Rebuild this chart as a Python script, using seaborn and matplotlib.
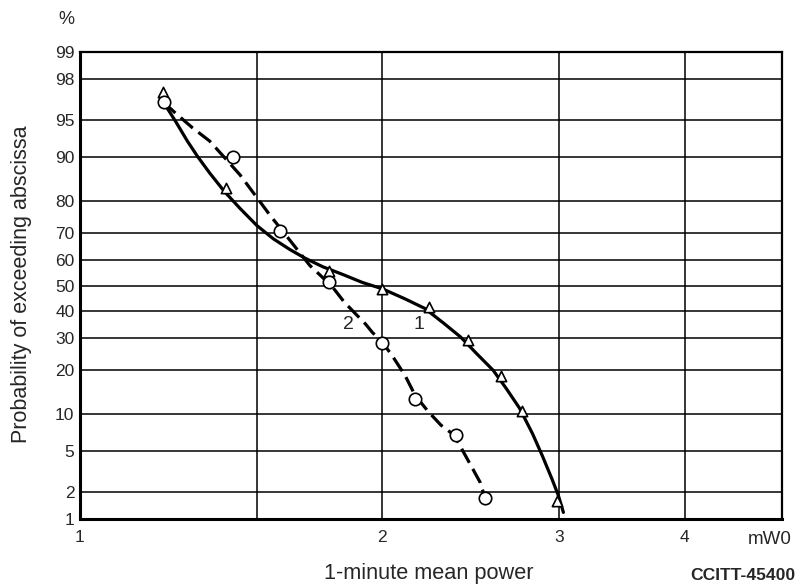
import numpy as np
import matplotlib
matplotlib.use('Agg')
import matplotlib.pyplot as plt
from matplotlib.ticker import FixedLocator, NullLocator
import seaborn as sns
from statistics import NormalDist

# measured points, curve 1 (triangles) and curve 2 (circles)
tri_x = [1.21, 1.399, 1.771, 2.0, 2.224, 2.433, 2.628, 2.754, 2.982]
tri_p = [97.3, 83.4, 55.8, 48.7, 41.7, 29.5, 18.5, 10.5, 1.6]
circ_x = [1.211, 1.420, 1.582, 1.771, 2.0, 2.156, 2.366, 2.531]
circ_p = [96.6, 90.0, 70.8, 51.2, 28.3, 13.0, 6.8, 1.70]

# hand-drawn fitted curves
c1_x = [1.211, 1.245, 1.279, 1.309, 1.346, 1.393, 1.443, 1.5, 1.558, 1.618, 1.674, 1.745,
        1.826, 1.911, 2.0, 2.107, 2.204, 2.305, 2.393, 2.484, 2.579, 2.658, 2.739, 2.822,
        2.886, 2.951, 2.995, 3.029]
c1_p = [96.6, 94.9, 92.5, 90.1, 86.9, 82.5, 77.9, 72.5, 67.9, 64.0, 60.8, 57.4,
        54.4, 51.2, 48.7, 44.7, 41.0, 35.2, 30.4, 24.8, 19.9, 15.2, 11.1, 7.0,
        4.5, 2.69, 1.81, 1.19]
c2_x = [1.211, 1.245, 1.294, 1.346, 1.399, 1.443, 1.494, 1.546, 1.594, 1.643, 1.693, 1.745,
        1.785, 1.833, 1.925, 1.955, 2.0, 2.045, 2.107, 2.156, 2.221, 2.288, 2.358, 2.43,
        2.503, 2.551]
c2_p = [96.6, 95.7, 94.2, 92.5, 89.5, 86.5, 81.6, 75.8, 70.3, 64.3, 58.0, 53.1,
        49.3, 43.4, 35.0, 32.0, 28.6, 24.3, 18.5, 13.7, 10.5, 8.2, 6.8, 4.2,
        2.49, 1.30]

y_ticks = [1, 2, 5, 10, 20, 30, 40, 50, 60, 70, 80, 90, 95, 98, 99]
x_ticks = [1, 1.5, 2, 3, 4]
x_labels = ['1', '', '2', '3', '4']

_nd = NormalDist()


# probability (normal) scale for the y axis
def to_z(p):
    p = np.clip(np.asarray(p, dtype=float), 1e-4, 100 - 1e-4)
    return np.vectorize(lambda v: _nd.inv_cdf(v / 100.0), otypes=[float])(p)


def from_z(z):
    z = np.asarray(z, dtype=float)
    return np.vectorize(lambda v: _nd.cdf(v) * 100.0, otypes=[float])(z)


sns.set_style('white')
plt.rcParams['font.family'] = ['Liberation Sans', 'DejaVu Sans']

fig = plt.figure(figsize=(8, 5.87), dpi=100)
ax = fig.add_axes([0.1, 0.1158, 0.8775, 0.7956])

ax.set_xscale('log')
ax.set_yscale('function', functions=(to_z, from_z))
ax.set_xlim(1, 5)
ax.set_ylim(1, 99)

sns.lineplot(x=c1_x, y=c1_p, sort=False, estimator=None, color='black', lw=2.3, ax=ax, zorder=3)
sns.lineplot(x=c2_x, y=c2_p, sort=False, estimator=None, color='black', lw=2.3,
             linestyle=(0, (5, 2.2)), ax=ax, zorder=3)
sns.scatterplot(x=tri_x, y=tri_p, marker='^', s=55, facecolor='white', edgecolor='black',
                linewidth=1.2, ax=ax, zorder=4)
sns.scatterplot(x=circ_x, y=circ_p, marker='o', s=80, facecolor='white', edgecolor='black',
                linewidth=1.2, ax=ax, zorder=4)

ax.xaxis.set_major_locator(FixedLocator(x_ticks))
ax.xaxis.set_minor_locator(NullLocator())
ax.set_xticklabels(x_labels)
ax.yaxis.set_major_locator(FixedLocator(y_ticks))
ax.yaxis.set_minor_locator(NullLocator())
ax.set_yticklabels([str(t) for t in y_ticks])
ax.tick_params(axis='both', length=0, labelsize=12.5)
ax.tick_params(axis='x', pad=8)
ax.tick_params(axis='y', pad=4)
ax.grid(True, color='black', lw=1.1)
for s in ax.spines.values():
    s.set_color('black')
    s.set_linewidth(1.6)
ax.spines['left'].set_linewidth(2.2)
ax.spines['bottom'].set_linewidth(2.2)

ax.text(2.176, 34.8, '1', fontsize=14, ha='center', va='center')
ax.text(1.849, 34.8, '2', fontsize=14, ha='center', va='center')

fig.text(66 / 800, 1 - 19 / 587, '%', ha='center', va='center', fontsize=13)
fig.text(770 / 800, 1 - 539 / 587, 'mW0', ha='center', va='center', fontsize=13.5)
fig.text(429 / 800, 1 - 574 / 587, '1-minute mean power', ha='center', va='center', fontsize=15.7)
fig.text(795 / 800, 1 - 575 / 587, 'CCITT-45400', ha='right', va='center', fontsize=12.6,
         fontweight='bold')
fig.text(22 / 800, 1 - 284 / 587, 'Probability of exceeding abscissa', ha='center', va='center',
         rotation=90, fontsize=15.5)

fig.savefig('out.png', dpi=100)
